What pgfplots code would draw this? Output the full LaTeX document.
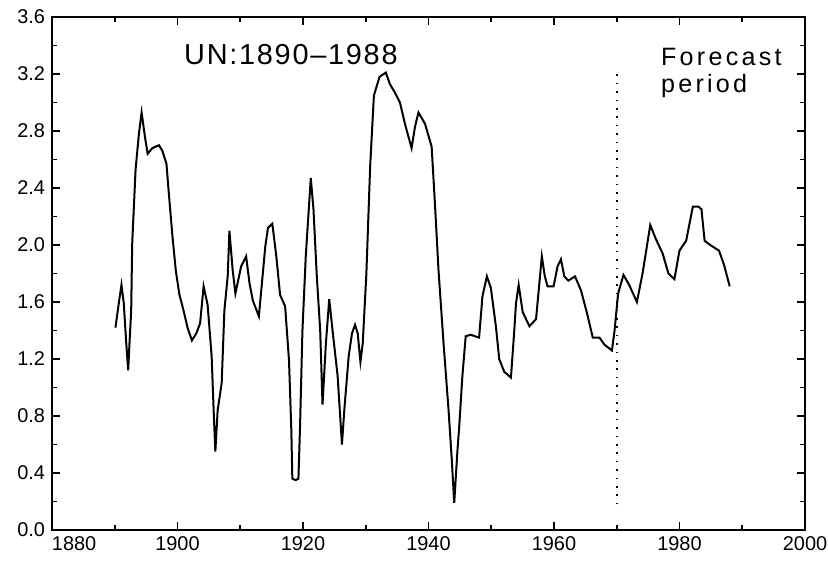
\documentclass[border=0pt]{standalone}
\usepackage{fontspec}
\setmainfont{Liberation Sans}
\usepackage{pgfplots}
\pgfplotsset{compat=1.18}
\begin{document}
\begin{tikzpicture}
\path[use as bounding box] (-26bp,-16.5bp) rectangle (388bp,265bp);
\begin{axis}[
  at={(0,0)}, anchor=south west,
  scale only axis, width=376.5bp, height=256.5bp,
  xmin=1880, xmax=2000, ymin=0, ymax=3.6,
  xtick={1880,1900,1920,1940,1960,1980,2000},
  xticklabels={\hphantom{0000}1880,1900,1920,1940,1960,1980,2000},
  minor xtick={1890,1910,1930,1950,1970,1990},
  ytick={0,0.4,0.8,1.2,1.6,2.0,2.4,2.8,3.2,3.6},
  minor ytick={0.2,0.6,1.0,1.4,1.8,2.2,2.6,3.0,3.4},
  yticklabel style={/pgf/number format/.cd, fixed, fixed zerofill, precision=1},
  /pgf/number format/assume math mode=true,
  tick align=inside, major tick length=4bp, minor tick length=2.5bp,
  axis line style={line width=1.3bp},
  every tick/.style={line width=0.8bp, black},
  ticklabel style={font=\fontsize{10}{12}\selectfont},
  clip=false,
]
\addplot[black, line width=1bp] coordinates {
(1890.11,1.42) (1890.64,1.59) (1891.07,1.72) (1891.44,1.59) (1891.82,1.32)
(1892.14,1.12) (1892.35,1.31) (1892.62,1.54) (1892.78,2.01) (1893.32,2.53)
(1893.85,2.78) (1894.28,2.93) (1894.81,2.76) (1895.24,2.64) (1895.99,2.68)
(1897.06,2.70) (1897.59,2.66) (1898.24,2.57) (1898.66,2.34) (1899.20,2.06)
(1899.73,1.82) (1900.27,1.66) (1901.07,1.52) (1901.60,1.42) (1902.30,1.33)
(1903.00,1.38) (1903.60,1.45) (1904.16,1.71) (1904.80,1.58) (1905.44,1.22)
(1905.76,0.84) (1906.03,0.55) (1906.40,0.84) (1907.04,1.03) (1907.47,1.54)
(1908.00,1.78) (1908.27,2.10) (1908.80,1.82) (1909.23,1.66) (1910.14,1.85)
(1910.94,1.92) (1911.48,1.73) (1912.01,1.61) (1912.97,1.50) (1913.45,1.73)
(1913.99,1.99) (1914.42,2.12) (1915.11,2.15) (1915.75,1.92) (1916.35,1.65)
(1917.15,1.57) (1917.77,1.19) (1918.14,0.70) (1918.30,0.36) (1918.84,0.35)
(1919.27,0.36) (1919.53,0.73) (1919.91,1.40) (1920.44,1.92) (1921.24,2.47)
(1921.67,2.25) (1922.20,1.78) (1922.74,1.40) (1923.11,0.88) (1923.65,1.31)
(1924.18,1.62) (1924.71,1.40) (1925.52,1.08) (1926.05,0.71) (1926.21,0.60)
(1926.58,0.84) (1927.28,1.22) (1927.81,1.38) (1928.29,1.44) (1928.72,1.38)
(1929.15,1.18) (1929.52,1.31) (1930.10,1.80) (1930.70,2.55) (1931.30,3.05)
(1932.20,3.18) (1933.20,3.21) (1933.84,3.13) (1934.64,3.07) (1935.45,3.00)
(1936.25,2.85) (1937.30,2.68) (1937.85,2.83) (1938.40,2.93) (1939.45,2.85)
(1940.50,2.69) (1941.05,2.27) (1941.60,1.82) (1942.40,1.31) (1943.20,0.84)
(1943.70,0.50) (1944.10,0.19) (1944.60,0.55) (1944.90,0.73) (1945.40,1.08)
(1945.93,1.36) (1946.73,1.37) (1948.06,1.35) (1948.60,1.64) (1949.30,1.78)
(1949.93,1.70) (1950.74,1.43) (1951.27,1.20) (1952.07,1.11) (1953.14,1.07)
(1953.67,1.40) (1953.94,1.59) (1954.37,1.72) (1955.01,1.53) (1956.08,1.43)
(1957.14,1.48) (1957.60,1.70) (1958.06,1.92) (1958.54,1.78) (1958.97,1.71)
(1959.93,1.71) (1960.57,1.85) (1961.11,1.90) (1961.64,1.78) (1962.28,1.75)
(1963.35,1.78) (1964.31,1.68) (1965.27,1.52) (1966.18,1.35) (1967.25,1.35)
(1968.05,1.30) (1969.23,1.26) (1969.65,1.40) (1970.22,1.66) (1971.07,1.79)
(1971.98,1.72) (1973.21,1.60) (1974.11,1.80) (1975.34,2.14) (1976.25,2.04)
(1977.32,1.94) (1978.23,1.80) (1979.19,1.76) (1979.99,1.96) (1981.06,2.03)
(1982.13,2.27) (1983.04,2.27) (1983.50,2.25) (1984.00,2.03) (1984.90,2.00)
(1986.30,1.96) (1987.10,1.86) (1988.00,1.71)
};
\addplot[black, line width=0.8bp, dash pattern=on 0.8bp off 3.4bp] coordinates {(1970,0.18) (1970,3.22)};
\node[anchor=base west, inner sep=0pt, font=\fontsize{14.5}{17}\selectfont\addfontfeature{LetterSpace=6}] at (axis cs:1901,3.27) {UN:1890\textendash1988};
\node[anchor=base west, inner sep=0pt, font=\fontsize{12.6}{14}\selectfont\addfontfeature{LetterSpace=13}] at (axis cs:1977,3.26) {Forecast};
\node[anchor=base west, inner sep=0pt, font=\fontsize{12.6}{14}\selectfont\addfontfeature{LetterSpace=13}] at (axis cs:1977,3.07) {period};
\end{axis}
\end{tikzpicture}
\end{document}
